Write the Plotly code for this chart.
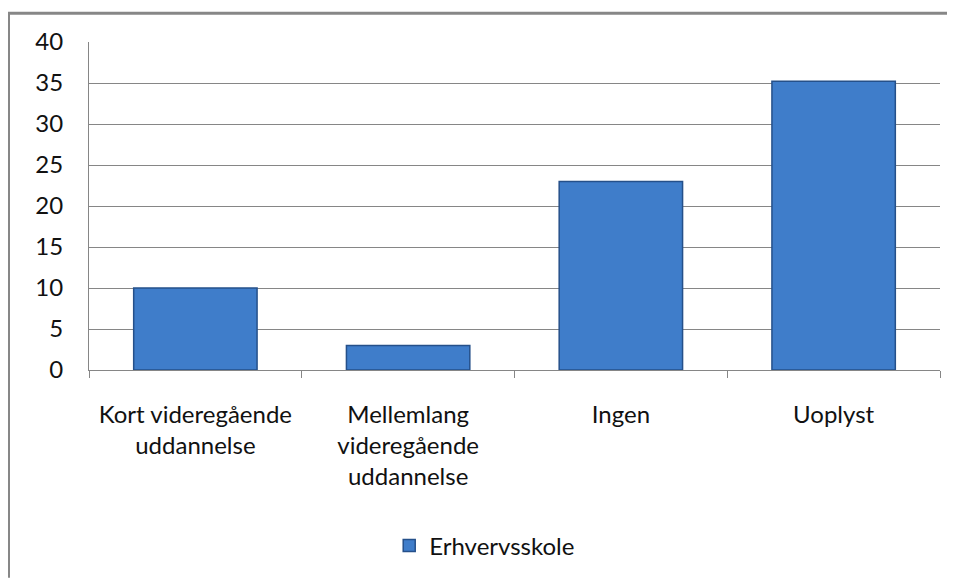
import plotly.graph_objects as go

# data
kategorier = ["Kort videregående<br>uddannelse",
              "Mellemlang<br>videregående<br>uddannelse",
              "Ingen",
              "Uoplyst"]
vaerdier = [10, 3, 23, 35.2]
serie_navn = "Erhvervsskole"

# figure sits 8px in from the page corner (body margin)
W, H = 947, 573
L, R, T, B = 81, 15, 34, 209
pw = W - L - R
ph = H - T - B

def px_x(x):
    return (x - L) / pw

def px_y(y):
    return (H - B - y) / ph

fig = go.Figure()
fig.add_trace(go.Bar(
    x=kategorier,
    y=vaerdier,
    name=serie_navn,
    marker=dict(color="#3F7DCA", line=dict(color="#25508A", width=1.5)),
    showlegend=True,
))

grå = "#868686"
fig.update_layout(
    width=W, height=H,
    margin=dict(l=L, r=R, t=T, b=B),
    paper_bgcolor="white",
    plot_bgcolor="white",
    font=dict(family="Lato, 'Open Sans', sans-serif", size=24, color="#111111"),
    bargap=0.42,
    showlegend=True,
    legend=dict(orientation="h", x=0.465, xanchor="center", y=px_y(541),
                yanchor="middle", font=dict(size=24)),
    xaxis=dict(showline=True, linecolor=grå, linewidth=1, ticks="outside",
               tickson="boundaries", ticklen=7, tickcolor=grå,
               ticklabelstandoff=23, showgrid=False),
    yaxis=dict(range=[0, 40], dtick=5, showline=True, linecolor=grå,
               linewidth=1, gridcolor=grå, gridwidth=1, zeroline=False,
               ticks="", ticklabelstandoff=20),
    shapes=[
        dict(type="line", xref="paper", yref="paper",
             x0=px_x(0), x1=px_x(W), y0=px_y(5), y1=px_y(5),
             line=dict(color="#878787", width=3)),
        dict(type="line", xref="paper", yref="paper",
             x0=px_x(0.5), x1=px_x(0.5), y0=px_y(5), y1=px_y(H),
             line=dict(color="#878787", width=3)),
    ],
)

fig.write_html("out.html")
